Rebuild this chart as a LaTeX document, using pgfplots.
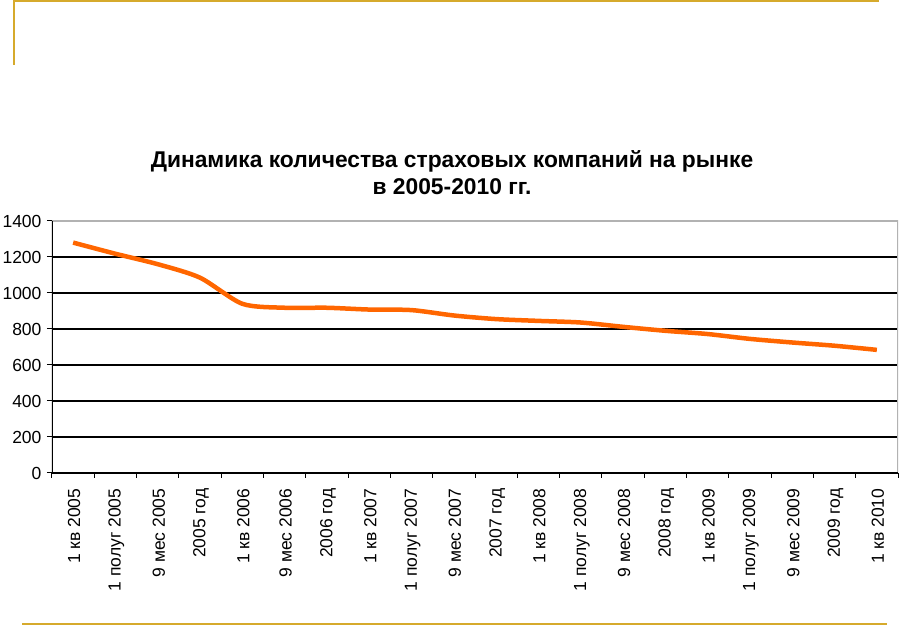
\documentclass[border=0pt]{standalone}
\usepackage{fontspec}
\setmainfont{Liberation Sans}
\usepackage{pgfplots}
\pgfplotsset{compat=1.18}
\definecolor{gold}{RGB}{214,170,44}
\definecolor{lineorange}{RGB}{255,102,0}
\begin{document}
\begin{tikzpicture}[x=1pt,y=1pt]
\useasboundingbox (0,0) rectangle (903,626);
% slide frame
\draw[gold, line width=2.5pt] (14,561) -- (14,625) -- (879,625);
\draw[gold, line width=2.5pt] (22,2) -- (887,2);
% title
\node[align=center, font=\bfseries\fontsize{22.8}{27}\selectfont] at (452,453)
  {Динамика количества страховых компаний на рынке\\в 2005-2010 гг.};
\begin{axis}[
  at={(52pt,153pt)}, anchor=south west,
  scale only axis, width=846pt, height=252pt,
  xmin=-0.5, xmax=19.5, ymin=0, ymax=1400,
  ytick={0,200,...,1400},
  xtick={0,...,19},
  xticklabels={1 кв 2005, 1 полуг 2005, 9 мес 2005, 2005 год, 1 кв 2006, 9 мес 2006, 2006 год, 1 кв 2007, 1 полуг 2007, 9 мес 2007, 2007 год, 1 кв 2008, 1 полуг 2008, 9 мес 2008, 2008 год, 1 кв 2009, 1 полуг 2009, 9 мес 2009, 2009 год, 1 кв 2010},
  minor xtick={-0.5,0.5,...,19.5},
  major x tick style={draw=none},
  tick align=outside, xtick pos=bottom, ytick pos=left,
  major tick length=5pt, minor tick length=5pt,
  ymajorgrids, grid style={black, line width=1.2pt},
  axis line style={draw=none},
  tick style={black, line width=1pt},
  /pgf/number format/assume math mode=true,
  /pgf/number format/1000 sep={},
  tick label style={font=\fontsize{17.5}{20}\selectfont},
  x tick label style={rotate=90, anchor=east, xshift=-7pt, yshift=-1pt},
  y tick label style={xshift=-2pt},
]
\addplot[lineorange, line width=4.5pt, smooth, tension=0.45] coordinates {
  (0,1280) (1,1218) (2,1160) (3,1085) (4,940) (5,918) (6,918) (7,908)
  (8,905) (9,875) (10,855) (11,845) (12,836) (13,812) (14,790) (15,772)
  (16,745) (17,725) (18,707) (19,684)
};
\draw[gray!60, line width=1.2pt] (rel axis cs:0,1) -- (rel axis cs:1,1) -- (rel axis cs:1,0);
\draw[black, line width=1.2pt] (rel axis cs:0,1) -- (rel axis cs:0,0) -- (rel axis cs:1,0);
\end{axis}
\end{tikzpicture}
\end{document}
